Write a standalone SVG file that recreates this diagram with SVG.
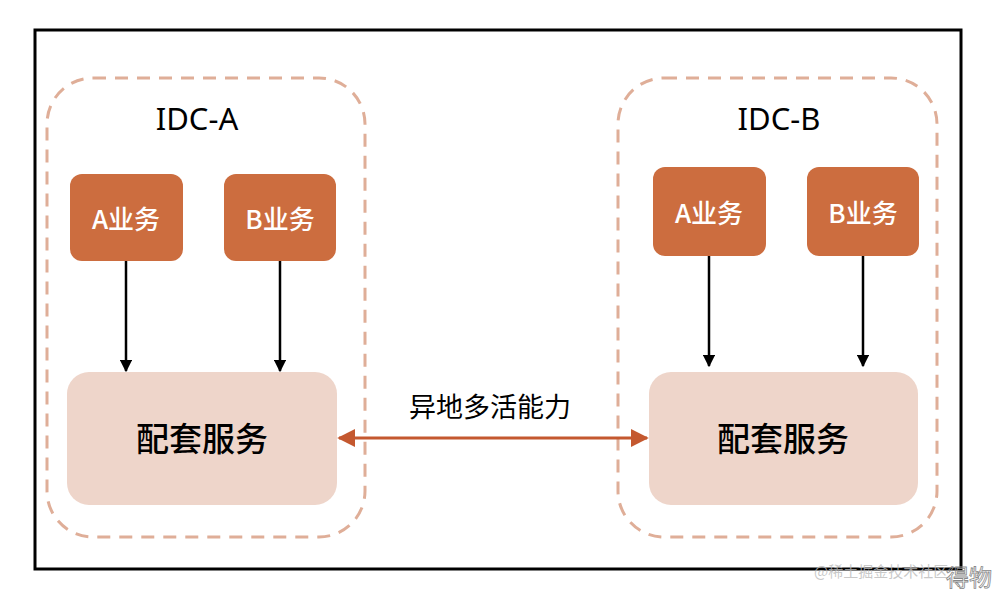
<svg xmlns="http://www.w3.org/2000/svg" width="994" height="598" viewBox="0 0 994 598">
<defs>
<style>
.idc{fill:none;stroke:#dfae98;stroke-width:3;stroke-dasharray:13 9}
.biz{fill:#cc6d3f}
.svc{fill:#eed5ca}
.t{font-family:"Noto Sans CJK SC","Liberation Sans",sans-serif;text-anchor:middle;dominant-baseline:central}
.title{font-family:"Noto Sans","Liberation Sans",sans-serif;font-size:31px;fill:#000;text-anchor:middle}
.bt{font-size:26px;fill:#fff;font-weight:500}
.st{font-size:33px;fill:#000;font-weight:500}
.ln{stroke:#000;stroke-width:2.5;fill:none}
.red{stroke:#c4582f;stroke-width:3;fill:none}
</style>
<marker id="ah" viewBox="0 0 10 10" refX="9" refY="5" markerWidth="5" markerHeight="5" orient="auto" markerUnits="strokeWidth"><path d="M0,0 L10,5 L0,10 z" fill="#000"/></marker>
<marker id="rh" viewBox="0 0 10 10" refX="9" refY="5" markerWidth="6" markerHeight="6" orient="auto-start-reverse" markerUnits="strokeWidth"><path d="M0,0 L10,5 L0,10 z" fill="#c4582f"/></marker>
</defs>
<rect x="0" y="0" width="994" height="598" fill="#fff"/>
<rect id="frame" x="35" y="30" width="926" height="539" fill="none" stroke="#000" stroke-width="3"/>
<g id="idc-a">
<rect class="idc" x="47" y="78" width="318" height="459" rx="46"/>
<text class="title" x="197" y="130">IDC-A</text>
</g>
<g id="idc-b">
<rect class="idc" x="618" y="78" width="319" height="459" rx="46"/>
<text class="title" x="779" y="130">IDC-B</text>
</g>
<g id="a-biz-a"><rect class="biz" x="70" y="174" width="113" height="87" rx="12"/><text class="t bt" x="126" y="217">A业务</text></g>
<g id="a-biz-b"><rect class="biz" x="224" y="174" width="112" height="87" rx="12"/><text class="t bt" x="280" y="217">B业务</text></g>
<g id="b-biz-a"><rect class="biz" x="653" y="167" width="113" height="89" rx="12"/><text class="t bt" x="709" y="211">A业务</text></g>
<g id="b-biz-b"><rect class="biz" x="807" y="167" width="112" height="89" rx="12"/><text class="t bt" x="863" y="211">B业务</text></g>
<g id="a-svc"><rect class="svc" x="67" y="372" width="270" height="133" rx="22"/><text class="t st" x="202" y="437">配套服务</text></g>
<g id="b-svc"><rect class="svc" x="649" y="372" width="269" height="133" rx="22"/><text class="t st" x="783" y="437">配套服务</text></g>
<g id="connectors">
<line class="ln" x1="126" y1="261" x2="126" y2="371" marker-end="url(#ah)"/>
<line class="ln" x1="280" y1="261" x2="280" y2="371" marker-end="url(#ah)"/>
<line class="ln" x1="709" y1="256" x2="709" y2="366" marker-end="url(#ah)"/>
<line class="ln" x1="863" y1="256" x2="863" y2="366" marker-end="url(#ah)"/>
<line class="red" x1="339" y1="438" x2="647" y2="438" marker-start="url(#rh)" marker-end="url(#rh)"/>
<text class="t" x="490" y="405" font-size="27" fill="#000">异地多活能力</text>
</g>
<text x="814" y="577" font-family="Noto Sans CJK SC,sans-serif" font-size="15" fill="#bbb" fill-opacity="0.8">@稀土掘金技术社区</text>
<text x="969" y="586" font-family="Noto Sans CJK SC,sans-serif" font-size="23" fill="none" stroke="#888" stroke-width="0.8" text-anchor="middle">得物</text>
</svg>
